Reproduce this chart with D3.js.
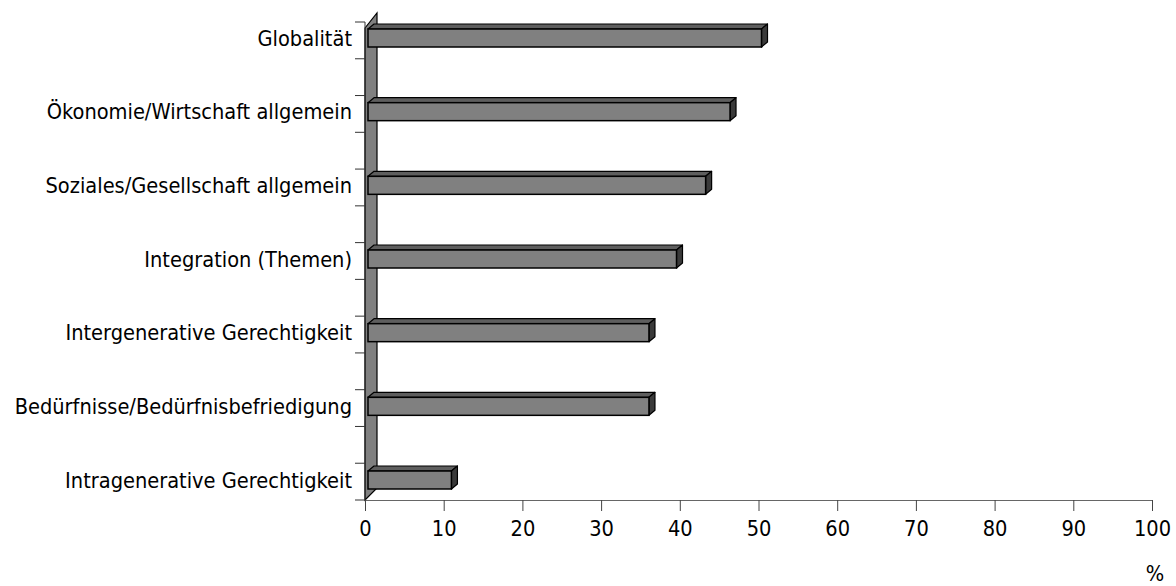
<!DOCTYPE html>
<html><head><meta charset="utf-8">
<script src="https://cdn.jsdelivr.net/npm/d3@7"></script>
<style>body{margin:0;background:#fff}svg{display:block}text{font-family:"DejaVu Sans Condensed","DejaVu Sans",sans-serif;fill:#000}</style>
</head><body>
<svg id="c" width="1176" height="586"></svg>
<script>
const categories = ["Globalität","Ökonomie/Wirtschaft allgemein","Soziales/Gesellschaft allgemein","Integration (Themen)","Intergenerative Gerechtigkeit","Bedürfnisse/Bedürfnisbefriedigung","Intragenerative Gerechtigkeit"];
const values = [50, 46, 42.9, 39.2, 35.7, 35.7, 10.6];
const xTicks = [0,10,20,30,40,50,60,70,80,90,100];
const unitLabel = "%";

const svg = d3.select("#c");
const x = d3.scaleLinear().domain([0,100]).range([365,1152]);
const y = d3.scalePoint().domain(categories).range([38,480]);
const axisTop = 22, axisBottom = 500;
const fs = 21.6;

// wall
svg.append("path")
  .attr("d", `M365,28 L377,13 L377,488 L365,500 Z`)
  .attr("fill","#808080").attr("stroke","#000").attr("stroke-width",1.2);

// y tick marks
const yTicks = d3.range(14).map(i => axisTop + i*(axisBottom-axisTop)/13);
svg.append("g").selectAll("line").data(yTicks).join("line")
  .attr("x1",355).attr("x2",365).attr("y1",d=>d).attr("y2",d=>d)
  .attr("stroke","#333").attr("stroke-width",1);
svg.append("line").attr("x1",365).attr("x2",365).attr("y1",axisTop).attr("y2",axisBottom).attr("stroke","#333");

// x axis
const xg = svg.append("g").attr("transform",`translate(0,${axisBottom})`)
  .call(d3.axisBottom(x).tickValues(xTicks).tickSize(11).tickPadding(10).tickSizeOuter(0));
xg.select(".domain").attr("stroke","#666").attr("stroke-width",1.2);
xg.selectAll(".tick line").attr("stroke","#444");
xg.selectAll(".tick text").attr("font-size",fs).attr("font-family",'"DejaVu Sans Condensed","DejaVu Sans",sans-serif').attr("fill","#000");

// category labels
svg.append("g").selectAll("text").data(categories).join("text")
  .attr("x",352).attr("y",d=>y(d)).attr("dy","0.36em")
  .attr("text-anchor","end").attr("font-size",fs).text(d=>d);

// bars
const h = 18, dx = 6, dy = 5, off = 3;
const bars = svg.append("g").selectAll("g").data(categories.map((c,i)=>({c,v:values[i]}))).join("g");
bars.each(function(d){
  const g = d3.select(this);
  const x0 = x(0)+off, x1 = x(d.v)+off, yt = y(d.c)-h/2, yb = y(d.c)+h/2;
  g.append("path").attr("d",`M${x0},${yt} L${x0+dx},${yt-dy} L${x1+dx},${yt-dy} L${x1},${yt} Z`)
    .attr("fill","#5e5e5e").attr("stroke","#000").attr("stroke-width",1.2).attr("stroke-linejoin","round");
  g.append("path").attr("d",`M${x1},${yt} L${x1+dx},${yt-dy} L${x1+dx},${yb-dy} L${x1},${yb} Z`)
    .attr("fill","#3a3a3a").attr("stroke","#000").attr("stroke-width",1.2).attr("stroke-linejoin","round");
  g.append("rect").attr("x",x0).attr("y",yt).attr("width",x1-x0).attr("height",h)
    .attr("fill","#808080").attr("stroke","#000").attr("stroke-width",1.5);
});

svg.append("text").attr("x",1155).attr("y",581).attr("text-anchor","middle").attr("font-size",fs).text(unitLabel);
</script>
</body></html>
